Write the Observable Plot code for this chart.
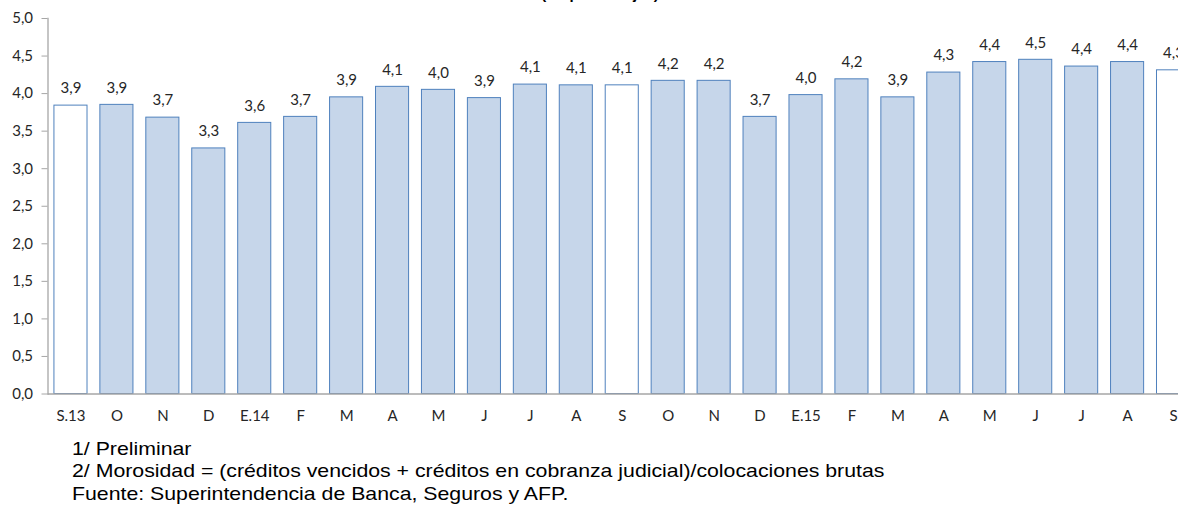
<!DOCTYPE html>
<html>
<head>
<meta charset="utf-8">
<script src="https://cdn.jsdelivr.net/npm/d3@7"></script>
<script src="https://cdn.jsdelivr.net/npm/@observablehq/plot@0.6"></script>
<style>
  html, body { margin: 0; padding: 0; background: #fff; overflow: hidden; width: 1178px; height: 508px; }
  #wrap { position: relative; width: 1178px; height: 508px; overflow: hidden; }
  #title { position: absolute; top: -15px; left: 0; width: 1200px; text-align: center; font: bold 15px "Liberation Sans", Arial, sans-serif; color: #000; }
  #chart { position: absolute; top: 0; left: 0; width: 1196px; }
  #chart svg { max-width: none !important; }
  #notes { position: absolute; top: 438px; left: 72px; font: 18.5px/22.3px "Liberation Sans", Arial, sans-serif; color: #000; white-space: nowrap; transform: scaleX(1.15); transform-origin: 0 0; }
</style>
</head>
<body>
<div id="wrap">
  <div id="title">(En porcentajes)</div>
  <div id="chart"></div>
  <div id="notes">
    <div>1/ Preliminar</div>
    <div>2/ Morosidad = (créditos vencidos + créditos en cobranza judicial)/colocaciones brutas</div>
    <div>Fuente: Superintendencia de Banca, Seguros y AFP.</div>
  </div>
</div>
<script>
const categories = ["S.13","O","N","D","E.14","F","M","A","M","J","J","A","S","O","N","D","E.15","F","M","A","M","J","J","A","S"];
const values = [3.84,3.85,3.68,3.27,3.61,3.69,3.95,4.09,4.05,3.94,4.12,4.11,4.11,4.17,4.17,3.69,3.98,4.19,3.95,4.28,4.42,4.45,4.36,4.42,4.31];
const labels = ["3,9","3,9","3,7","3,3","3,6","3,7","3,9","4,1","4,0","3,9","4,1","4,1","4,1","4,2","4,2","3,7","4,0","4,2","3,9","4,3","4,4","4,5","4,4","4,4","4,3"];
const highlightIdx = [0, 12, 24]; // September bars drawn in white
const yTicks = [0,0.5,1,1.5,2,2.5,3,3.5,4,4.5,5];

const data = categories.map((c, i) => ({i, cat: c, value: values[i], label: labels[i], white: highlightIdx.includes(i)}));
const fmt = v => v.toFixed(1).replace(".", ",");
const tickFont = "Lato, 'Open Sans', sans-serif";

const chart = Plot.plot({
  width: 1196,
  height: 430,
  marginLeft: 47.5,
  marginRight: 0,
  marginTop: 18,
  marginBottom: 36.5,
  style: {fontFamily: tickFont, fontSize: "15px", color: "#404040", background: "transparent", overflow: "visible", maxWidth: "none"},
  x: {type: "band", domain: d3.range(categories.length), paddingInner: 0.28, paddingOuter: 0.14, align: 0.5, round: false},
  y: {domain: [0, 5]},
  marks: [
    Plot.barY(data, {
      x: "i", y: "value",
      fill: d => d.white ? "#ffffff" : "#c6d6ea",
      stroke: "#4f81bd", strokeWidth: 1
    }),
    Plot.ruleY([0], {stroke: "#a6a6a6", strokeWidth: 1.3}),
    Plot.frame({anchor: "left", stroke: "#a6a6a6", strokeWidth: 1.3}),
    Plot.axisY({ticks: yTicks, tickFormat: fmt, tickSize: 6, tickPadding: 9, stroke: "#a6a6a6", fill: "#262626", fontSize: 15, label: null}),
    Plot.axisX({tickSize: 0, tickPadding: 16, tickFormat: i => categories[i], fill: "#262626", fontSize: 15, label: null}),
    Plot.text(data, {x: "i", y: "value", text: "label", dy: -17, lineAnchor: "middle", fill: "#262626", fontSize: 15})
  ]
});
document.getElementById("chart").appendChild(chart);
</script>
</body>
</html>
